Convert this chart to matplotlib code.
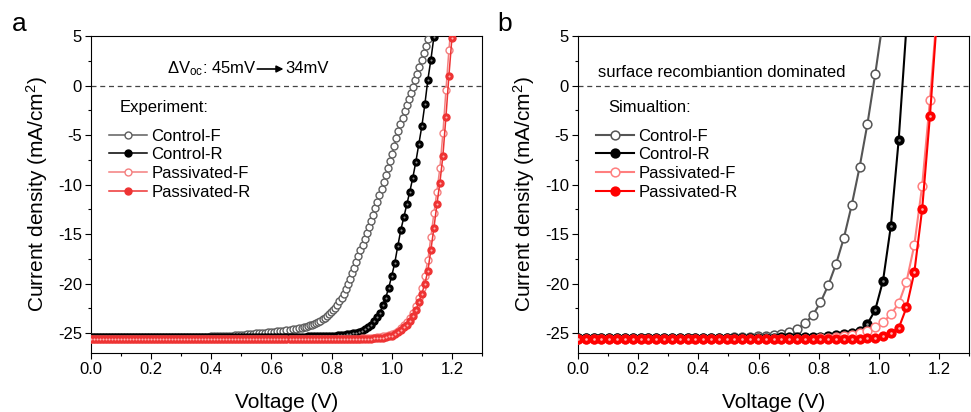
import matplotlib.pyplot as plt
from matplotlib.ticker import MultipleLocator

plt.rcParams["font.family"] = ["Liberation Sans", "DejaVu Sans"]
plt.rcParams["mathtext.fontset"] = "custom"
plt.rcParams["mathtext.rm"] = "Liberation Sans"
plt.rcParams["mathtext.it"] = "Liberation Sans:italic"
plt.rcParams["axes.unicode_minus"] = False

LABELS = ["Control-F", "Control-R", "Passivated-F", "Passivated-R"]

# ---- panel a: experiment (voltage sweep, V) ----
V_EXP = [
    0.00, 0.01, 0.02, 0.03, 0.04, 0.05, 0.06, 0.07, 0.08, 0.09,
    0.10, 0.11, 0.12, 0.13, 0.14, 0.15, 0.16, 0.17, 0.18, 0.19,
    0.20, 0.21, 0.22, 0.23, 0.24, 0.25, 0.26, 0.27, 0.28, 0.29,
    0.30, 0.31, 0.32, 0.33, 0.34, 0.35, 0.36, 0.37, 0.38, 0.39,
    0.40, 0.41, 0.42, 0.43, 0.44, 0.45, 0.46, 0.47, 0.48, 0.49,
    0.50, 0.51, 0.52, 0.53, 0.54, 0.55, 0.56, 0.57, 0.58, 0.59,
    0.60, 0.61, 0.62, 0.63, 0.64, 0.65, 0.66, 0.67, 0.68, 0.69,
    0.70, 0.71, 0.72, 0.73, 0.74, 0.75, 0.76, 0.77, 0.78, 0.79,
    0.80, 0.81, 0.82, 0.83, 0.84, 0.85, 0.86, 0.87, 0.88, 0.89,
    0.90, 0.91, 0.92, 0.93, 0.94, 0.95, 0.96, 0.97, 0.98, 0.99,
    1.00, 1.01, 1.02, 1.03, 1.04, 1.05, 1.06, 1.07, 1.08, 1.09,
    1.10, 1.11, 1.12, 1.13, 1.14, 1.15, 1.16, 1.17, 1.18, 1.19,
    1.20, 1.21,
]

# forward scan of the control cell has a finer step near Voc
V_EXP_CF = [
    0.00, 0.01, 0.02, 0.03, 0.04, 0.05, 0.06, 0.07, 0.08, 0.09,
    0.10, 0.11, 0.12, 0.13, 0.14, 0.15, 0.16, 0.17, 0.18, 0.19,
    0.20, 0.21, 0.22, 0.23, 0.24, 0.25, 0.26, 0.27, 0.28, 0.29,
    0.30, 0.31, 0.32, 0.33, 0.34, 0.35, 0.36, 0.37, 0.38, 0.39,
    0.40, 0.41, 0.42, 0.43, 0.44, 0.45, 0.46, 0.47, 0.48, 0.49,
    0.50, 0.51, 0.52, 0.53, 0.54, 0.55, 0.56, 0.57, 0.58, 0.59,
    0.60, 0.61, 0.62, 0.63, 0.64, 0.65, 0.66, 0.67, 0.68, 0.69,
    0.700, 0.707, 0.714, 0.721, 0.728, 0.735, 0.742, 0.749, 0.756, 0.763,
    0.770, 0.777, 0.784, 0.791, 0.798, 0.805, 0.812, 0.819, 0.826, 0.833,
    0.840, 0.847, 0.854, 0.861, 0.868, 0.875, 0.882, 0.889, 0.896, 0.903,
    0.910, 0.917, 0.924, 0.931, 0.938, 0.945, 0.952, 0.959, 0.966, 0.973,
    0.980, 0.987, 0.994, 1.001, 1.008, 1.015, 1.022, 1.029, 1.036, 1.043,
    1.050, 1.057, 1.064, 1.071, 1.078, 1.085, 1.092, 1.099, 1.106, 1.113,
    1.120, 1.127,
]

J_EXP_CF = [
    -25.35, -25.35, -25.35, -25.35, -25.35, -25.35, -25.35, -25.35, -25.35, -25.35,
    -25.35, -25.35, -25.35, -25.35, -25.35, -25.35, -25.35, -25.35, -25.35, -25.35,
    -25.35, -25.35, -25.35, -25.35, -25.35, -25.35, -25.35, -25.35, -25.35, -25.35,
    -25.35, -25.35, -25.35, -25.35, -25.35, -25.35, -25.35, -25.35, -25.35, -25.35,
    -25.33, -25.32, -25.31, -25.30, -25.29, -25.28, -25.26, -25.24, -25.22, -25.20,
    -25.18, -25.15, -25.12, -25.09, -25.06, -25.03, -25.00, -24.97, -24.94, -24.91,
    -24.88, -24.85, -24.82, -24.79, -24.76, -24.72, -24.67, -24.62, -24.57, -24.52,
    -24.47, -24.42, -24.38, -24.30, -24.22, -24.15, -24.08, -24.00, -23.88, -23.75,
    -23.60, -23.45, -23.28, -23.10, -22.90, -22.68, -22.42, -22.12, -21.80, -21.45,
    -21.00, -20.55, -20.07, -19.52, -18.96, -18.38, -17.78, -17.18, -16.60, -16.05,
    -15.50, -14.92, -14.30, -13.65, -13.02, -12.40, -11.75, -11.10, -10.45, -9.78,
    -9.03, -8.30, -7.60, -6.90, -6.10, -5.30, -4.60, -3.90, -3.25, -2.60,
    -1.98, -1.35, -0.75, -0.10, 0.56, 1.20, 1.90, 2.60, 3.30, 4.00,
    4.70, 5.40,
]

J_EXP_CR = [
    -25.35, -25.35, -25.35, -25.35, -25.35, -25.35, -25.35, -25.35, -25.35, -25.35,
    -25.35, -25.35, -25.35, -25.35, -25.35, -25.35, -25.35, -25.35, -25.35, -25.35,
    -25.35, -25.35, -25.35, -25.35, -25.35, -25.35, -25.35, -25.35, -25.35, -25.35,
    -25.35, -25.35, -25.35, -25.35, -25.35, -25.35, -25.35, -25.35, -25.35, -25.35,
    -25.35, -25.35, -25.35, -25.35, -25.35, -25.35, -25.35, -25.35, -25.35, -25.35,
    -25.35, -25.35, -25.35, -25.35, -25.35, -25.35, -25.35, -25.35, -25.35, -25.35,
    -25.35, -25.35, -25.35, -25.35, -25.35, -25.35, -25.35, -25.35, -25.35, -25.35,
    -25.34, -25.34, -25.33, -25.33, -25.32, -25.32, -25.31, -25.30, -25.29, -25.28,
    -25.27, -25.25, -25.23, -25.20, -25.16, -25.12, -25.08, -25.02, -24.95, -24.85,
    -24.75, -24.60, -24.40, -24.15, -23.80, -23.40, -23.00, -22.20, -21.40, -20.40,
    -19.20, -17.90, -16.20, -14.60, -13.30, -12.00, -10.70, -9.30, -7.70, -5.90,
    -4.10, -1.90, 0.60, 2.60, 4.90, 7.30,
]

J_EXP_PF = [
    -25.55, -25.55, -25.55, -25.55, -25.55, -25.55, -25.55, -25.55, -25.55, -25.55,
    -25.55, -25.55, -25.55, -25.55, -25.55, -25.55, -25.55, -25.55, -25.55, -25.55,
    -25.55, -25.55, -25.55, -25.55, -25.55, -25.55, -25.55, -25.55, -25.55, -25.55,
    -25.55, -25.55, -25.55, -25.55, -25.55, -25.55, -25.55, -25.55, -25.55, -25.55,
    -25.55, -25.55, -25.55, -25.55, -25.55, -25.55, -25.55, -25.55, -25.55, -25.55,
    -25.55, -25.55, -25.55, -25.55, -25.55, -25.55, -25.55, -25.55, -25.55, -25.55,
    -25.55, -25.55, -25.55, -25.55, -25.55, -25.55, -25.55, -25.55, -25.55, -25.55,
    -25.55, -25.55, -25.55, -25.55, -25.55, -25.55, -25.55, -25.55, -25.55, -25.55,
    -25.55, -25.55, -25.55, -25.55, -25.55, -25.55, -25.55, -25.55, -25.55, -25.55,
    -25.53, -25.52, -25.50, -25.48, -25.45, -25.42, -25.38, -25.33, -25.27, -25.20,
    -25.10, -24.95, -24.75, -24.50, -24.20, -23.85, -23.45, -22.95, -22.30, -21.40,
    -20.40, -19.20, -17.60, -15.30, -12.90, -10.70, -8.30, -4.80, -0.50, 3.60,
    7.00,
]

J_EXP_PR = [
    -25.60, -25.60, -25.60, -25.60, -25.60, -25.60, -25.60, -25.60, -25.60, -25.60,
    -25.60, -25.60, -25.60, -25.60, -25.60, -25.60, -25.60, -25.60, -25.60, -25.60,
    -25.60, -25.60, -25.60, -25.60, -25.60, -25.60, -25.60, -25.60, -25.60, -25.60,
    -25.60, -25.60, -25.60, -25.60, -25.60, -25.60, -25.60, -25.60, -25.60, -25.60,
    -25.60, -25.60, -25.60, -25.60, -25.60, -25.60, -25.60, -25.60, -25.60, -25.60,
    -25.60, -25.60, -25.60, -25.60, -25.60, -25.60, -25.60, -25.60, -25.60, -25.60,
    -25.60, -25.60, -25.60, -25.60, -25.60, -25.60, -25.60, -25.60, -25.60, -25.60,
    -25.60, -25.60, -25.60, -25.60, -25.60, -25.60, -25.60, -25.60, -25.60, -25.60,
    -25.60, -25.60, -25.60, -25.60, -25.60, -25.60, -25.60, -25.60, -25.60, -25.60,
    -25.58, -25.57, -25.56, -25.54, -25.52, -25.50, -25.47, -25.44, -25.40, -25.33,
    -25.25, -25.10, -24.90, -24.65, -24.40, -24.15, -23.80, -23.30, -22.70, -21.90,
    -21.00, -20.00, -18.70, -16.60, -14.40, -12.00, -9.80, -7.10, -3.20, 1.00,
    4.80, 8.00,
]

# ---- panel b: simulation ----
V_SIM = [
    0.000, 0.026, 0.052, 0.078, 0.104, 0.130, 0.156, 0.182, 0.208, 0.234,
    0.260, 0.286, 0.312, 0.338, 0.364, 0.390, 0.416, 0.442, 0.468, 0.494,
    0.520, 0.546, 0.572, 0.598, 0.624, 0.650, 0.676, 0.702, 0.728, 0.754,
    0.780, 0.806, 0.832, 0.858, 0.884, 0.910, 0.936, 0.962, 0.988, 1.014,
    1.040, 1.066, 1.092, 1.118, 1.144, 1.170, 1.196,
]

J_SIM_CF = [
    -25.50, -25.50, -25.50, -25.50, -25.50, -25.50, -25.50, -25.50, -25.50, -25.50,
    -25.50, -25.50, -25.50, -25.50, -25.50, -25.50, -25.47, -25.46, -25.45, -25.44,
    -25.43, -25.41, -25.38, -25.33, -25.28, -25.20, -25.08, -24.90, -24.60, -24.00,
    -23.20, -21.90, -20.15, -18.00, -15.36, -12.05, -8.25, -3.90, 1.15, 6.60,
]

J_SIM_CR = [
    -25.50, -25.50, -25.50, -25.50, -25.50, -25.50, -25.50, -25.50, -25.50, -25.50,
    -25.50, -25.50, -25.50, -25.50, -25.50, -25.50, -25.50, -25.50, -25.50, -25.50,
    -25.50, -25.48, -25.47, -25.46, -25.45, -25.44, -25.43, -25.42, -25.41, -25.40,
    -25.38, -25.35, -25.30, -25.22, -25.10, -24.95, -24.75, -24.07, -22.66, -19.70,
    -14.18, -5.50, 6.00,
]

J_SIM_PF = [
    -25.55, -25.55, -25.55, -25.55, -25.55, -25.55, -25.55, -25.55, -25.55, -25.55,
    -25.55, -25.55, -25.55, -25.55, -25.55, -25.55, -25.55, -25.55, -25.55, -25.55,
    -25.55, -25.55, -25.55, -25.55, -25.55, -25.55, -25.55, -25.55, -25.55, -25.55,
    -25.55, -25.50, -25.45, -25.38, -25.30, -25.15, -25.00, -24.80, -24.40, -23.90,
    -23.10, -22.00, -19.80, -16.10, -10.14, -1.46, 8.50,
]

J_SIM_PR = [
    -25.60, -25.60, -25.60, -25.60, -25.60, -25.60, -25.60, -25.60, -25.60, -25.60,
    -25.60, -25.60, -25.60, -25.60, -25.60, -25.60, -25.60, -25.60, -25.60, -25.60,
    -25.60, -25.60, -25.60, -25.60, -25.60, -25.60, -25.60, -25.60, -25.60, -25.60,
    -25.60, -25.60, -25.60, -25.60, -25.60, -25.58, -25.56, -25.52, -25.45, -25.28,
    -24.95, -24.50, -22.40, -18.86, -12.50, -3.05, 8.00,
]

COLORS_A = ["#5e5e5e", "#000000", "#f47f7f", "#ee3333"]
COLORS_B = ["#555555", "#000000", "#ff7f7f", "#ff0000"]
# lighter dot in the middle of the filled (reverse-scan) markers
SHINE = ["white", "#8a8a8a", "white", "#ffb3b3"]
FILLED = [False, True, False, True]


def style_axes(ax):
    ax.set_xlim(0, 1.3)
    ax.set_ylim(-27, 5)
    ax.xaxis.set_major_locator(MultipleLocator(0.2))
    ax.xaxis.set_minor_locator(MultipleLocator(0.1))
    ax.yaxis.set_major_locator(MultipleLocator(5))
    ax.yaxis.set_minor_locator(MultipleLocator(2.5))
    ax.tick_params(which="major", direction="out", length=4.5, width=0.8,
                   labelsize=12, pad=2)
    ax.tick_params(which="minor", direction="out", length=2.5, width=0.8)
    for sp in ax.spines.values():
        sp.set_linewidth(0.8)
    ax.axhline(0, color="#444444", lw=0.9, ls=(0, (4, 3)), zorder=1)
    ax.set_xlabel("Voltage (V)", fontsize=15, va="top")
    ax.set_ylabel("Current density (mA/cm$^2$)", fontsize=15)
    ax.xaxis.set_label_coords(0.5, -0.126)
    ax.yaxis.set_label_coords(-0.105, 0.5)


def draw(ax, xs, ys, colors, ms, lw, mew):
    for x, y, c, s, full, lab in zip(xs, ys, colors, SHINE, FILLED, LABELS):
        ax.plot(x, y, color=c, lw=lw, marker="o", ms=ms, mew=mew,
                mfc=c if full else "white", mec=c, label=lab, zorder=3)
        if full:
            ax.plot(x, y, ls="none", marker="o", ms=ms * 0.3, mew=0,
                    mfc=s, zorder=3)
    ax.legend(loc="upper left", bbox_to_anchor=(0.046, 0.708), frameon=False,
              fontsize=12, handlelength=2.3, handletextpad=0.25,
              labelspacing=0.22, borderpad=0, borderaxespad=0)


fig = plt.figure(figsize=(9.71, 4.12), dpi=100)
ax_a = fig.add_axes([0.0937, 0.1432, 0.4027, 0.7694])
ax_b = fig.add_axes([0.5953, 0.1432, 0.4027, 0.7694])

style_axes(ax_a)
style_axes(ax_b)

draw(ax_a,
     [V_EXP_CF, V_EXP[:len(J_EXP_CR)], V_EXP[:len(J_EXP_PF)], V_EXP[:len(J_EXP_PR)]],
     [J_EXP_CF, J_EXP_CR, J_EXP_PF, J_EXP_PR],
     COLORS_A, ms=5.0, lw=1.1, mew=1.0)
draw(ax_b,
     [V_SIM[:len(J_SIM_CF)], V_SIM[:len(J_SIM_CR)], V_SIM, V_SIM],
     [J_SIM_CF, J_SIM_CR, J_SIM_PF, J_SIM_PR],
     COLORS_B, ms=6.3, lw=1.5, mew=1.1)

ax_a.text(0.074, 0.773, "Experiment:", transform=ax_a.transAxes,
          fontsize=12, va="center")
ax_b.text(0.077, 0.773, "Simualtion:", transform=ax_b.transAxes,
          fontsize=12, va="center")

ax_a.text(0.2525, 1.67, "\u0394V$_{\\rm oc}$: 45mV", fontsize=12, va="center")
ax_a.annotate("", xy=(0.64, 1.67), xytext=(0.553, 1.67),
              arrowprops=dict(arrowstyle="-|>", color="black", lw=1.2,
                              mutation_scale=10, shrinkA=0, shrinkB=0))
ax_a.text(0.645, 1.67, "34mV", fontsize=12, va="center")

ax_b.text(0.066, 1.3, "surface recombiantion dominated", fontsize=12,
          va="center")

fig.text(0.012, 0.925, "a", fontsize=19, va="baseline")
fig.text(0.512, 0.925, "b", fontsize=19, va="baseline")

fig.savefig("out.png", dpi=100)
